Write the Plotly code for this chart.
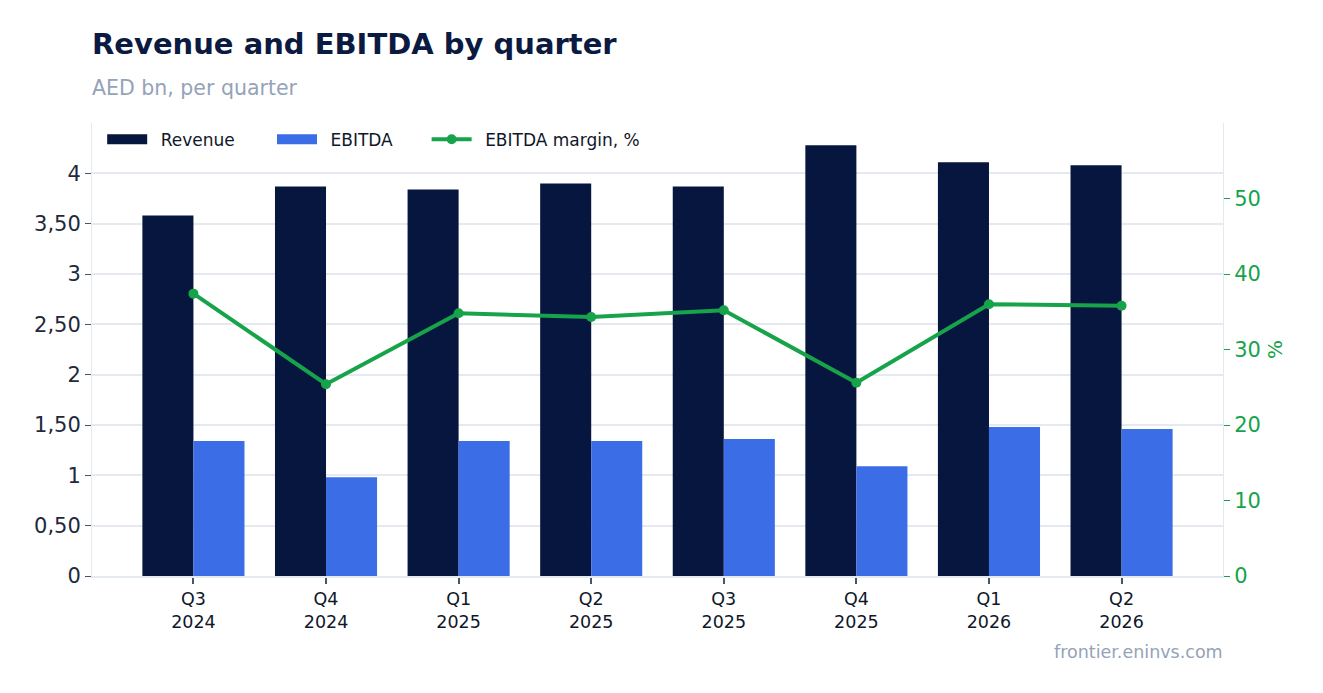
import plotly.graph_objects as go

quarters = ["Q3<br>2024", "Q4<br>2024", "Q1<br>2025", "Q2<br>2025",
            "Q3<br>2025", "Q4<br>2025", "Q1<br>2026", "Q2<br>2026"]
revenue = [3.58, 3.87, 3.84, 3.90, 3.87, 4.28, 4.11, 4.08]
ebitda = [1.34, 0.98, 1.34, 1.34, 1.36, 1.09, 1.48, 1.46]
margin = [37.4, 25.4, 34.8, 34.3, 35.2, 25.6, 36.0, 35.8]

left_ticks = [0, 0.5, 1, 1.5, 2, 2.5, 3, 3.5, 4]
left_labels = ["0", "0,50", "1", "1,50", "2", "2,50", "3", "3,50", "4"]
right_ticks = [0, 10, 20, 30, 40, 50]

NAVY = "#06163f"
BLUE = "#3b6de6"
GREEN = "#16a34a"
GRID = "#e5e9f0"
FONT = "DejaVu Sans"
SP = "\u2002"   # en space, used to pad legend entries
THIN = "\u2009"

fig = go.Figure()
fig.add_trace(go.Bar(x=quarters, y=revenue, name="Revenue", marker_color=NAVY,
                     marker_line_width=0, legendgroup="rev", showlegend=False))
fig.add_trace(go.Bar(x=quarters, y=ebitda, name="EBITDA", marker_color=BLUE,
                     marker_line_width=0, legendgroup="ebitda", showlegend=False))
# wide legend swatches for the bars
fig.add_trace(go.Scatter(x=[None], y=[None], mode="lines", name=SP + "Revenue" + SP * 3 + THIN * 2,
                         legendgroup="rev", line=dict(color=NAVY, width=14), hoverinfo="skip"))
fig.add_trace(go.Scatter(x=[None], y=[None], mode="lines", name=SP + "EBITDA" + SP * 3 + THIN,
                         legendgroup="ebitda", line=dict(color=BLUE, width=14), hoverinfo="skip"))
fig.add_trace(go.Scatter(
    x=quarters, y=margin, name=SP + "EBITDA margin, %", yaxis="y2",
    mode="lines+markers", line=dict(color=GREEN, width=4),
    marker=dict(size=10, color=GREEN),
))

fig.update_layout(
    width=1323, height=693,
    margin=dict(l=84, r=108, t=115, b=125),
    paper_bgcolor="white", plot_bgcolor="white",
    font=dict(family=FONT, color="#1e293b"),
    barmode="group", bargap=0.23, bargroupgap=0,
    title=dict(text="<b>Revenue and EBITDA by quarter</b>", x=84/1323, xanchor="left",
               y=1 - 36/693, yanchor="middle", font=dict(size=29, color="#0b1a40")),
    legend=dict(orientation="h", x=0.009, y=1.003, xanchor="left", yanchor="top",
                itemwidth=40, traceorder="normal",
                font=dict(size=17, color="#0f172a"), bgcolor="rgba(0,0,0,0)"),
    xaxis=dict(range=[-0.765, 7.765], showgrid=False, showline=True, linecolor=GRID, linewidth=2,
               ticks="outside", tickcolor="#475569", ticklen=6, tickwidth=2,
               tickfont=dict(size=17.5, color="#0f172a")),
    yaxis=dict(range=[0, 4.5], tickvals=left_ticks, ticktext=left_labels,
               showgrid=True, gridcolor=GRID, gridwidth=2, zeroline=False,
               showline=True, linecolor=GRID, linewidth=1,
               ticks="outside", tickcolor="#475569", ticklen=6,
               tickfont=dict(size=21, color="#1e293b")),
    yaxis2=dict(overlaying="y", side="right", range=[0, 60], tickvals=right_ticks,
                showgrid=False, zeroline=False, showline=True, linecolor=GRID, linewidth=1,
                ticks="outside", tickcolor=GREEN, ticklen=6,
                tickfont=dict(size=21, color=GREEN),
                title=dict(text="%", font=dict(size=20, color=GREEN), standoff=8)),
)

fig.add_annotation(text="AED bn, per quarter", xref="paper", yref="paper",
                   x=-0.002, y=1 + (123 - 88) / 453, xanchor="left", yanchor="middle",
                   showarrow=False, font=dict(size=20.5, color="#94a3b8"))
fig.add_annotation(text="frontier.eninvs.com", xref="paper", yref="paper",
                   x=1.002, y=-(652 - 576) / 453, xanchor="right", yanchor="middle",
                   showarrow=False, font=dict(size=17.5, color="#94a3b8"))

fig.write_html("out.html")
